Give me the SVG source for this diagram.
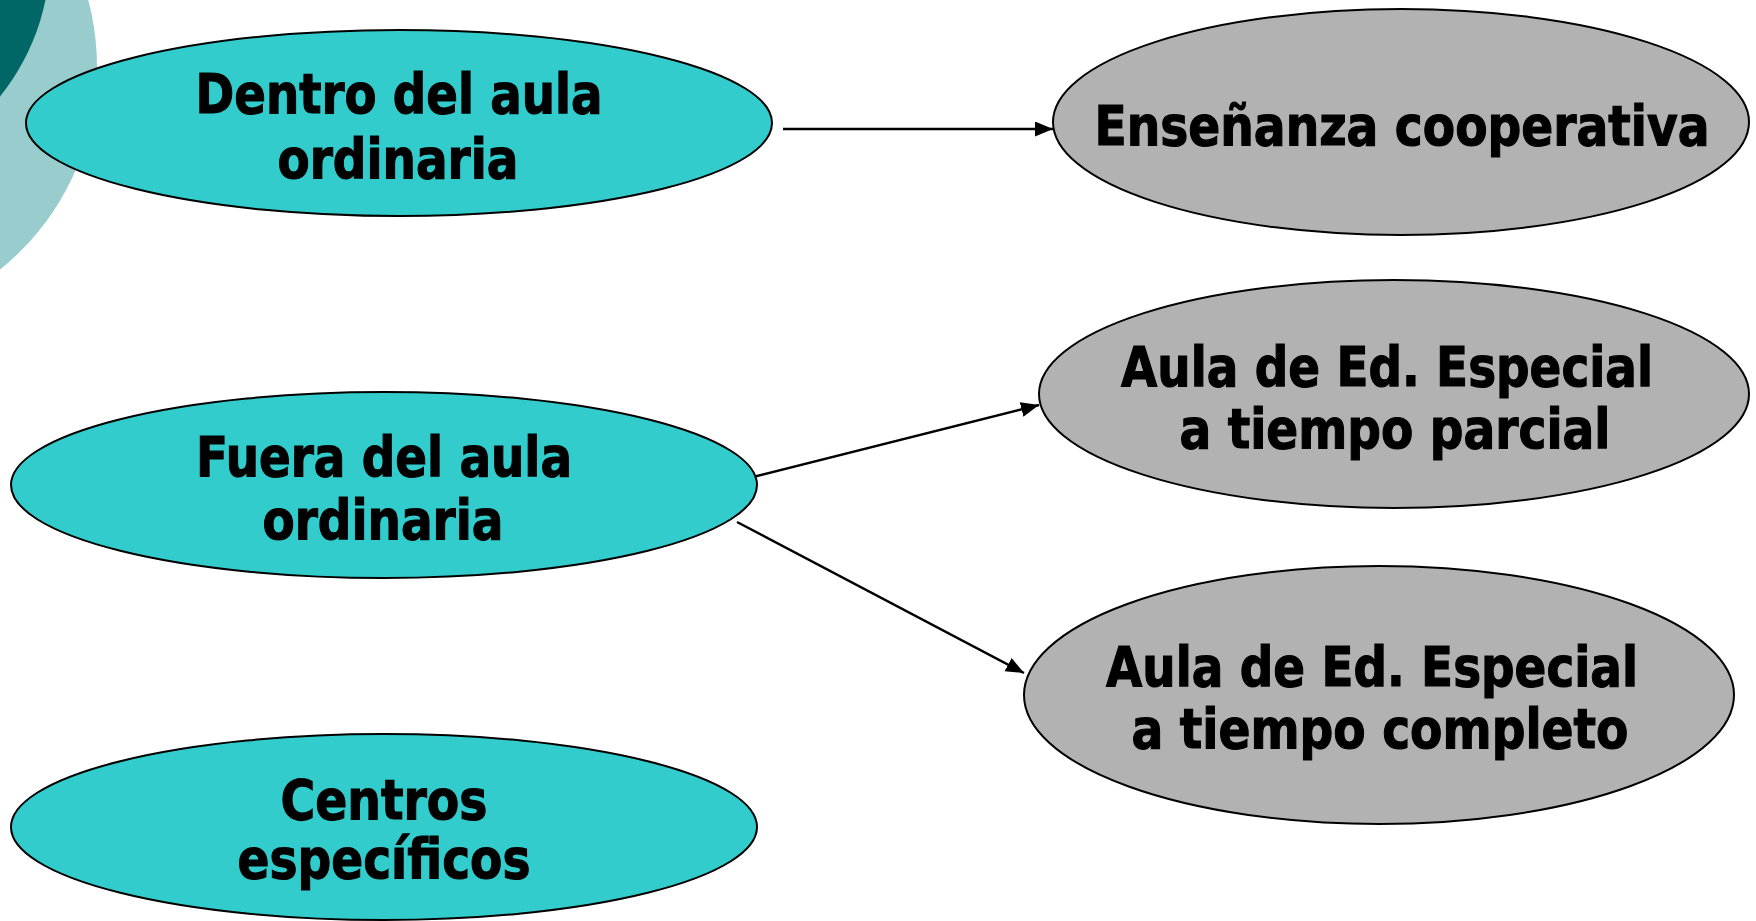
<svg xmlns="http://www.w3.org/2000/svg" width="1756" height="921" viewBox="0 0 1756 921">
<style>
.teal{fill:#33CCCC;stroke:#000;stroke-width:2}
.gray{fill:#B2B2B2;stroke:#000;stroke-width:2}
.lbl{font-family:"DejaVu Sans","Liberation Sans",sans-serif;font-weight:bold;font-size:56px;fill:#000;stroke:#000;stroke-width:1.2;text-anchor:middle}
.conn{stroke:#000;stroke-width:2.4;fill:none;marker-end:url(#arr)}
</style>
<defs>
<marker id="arr" markerUnits="userSpaceOnUse" markerWidth="19" markerHeight="16" refX="18" refY="7.5" orient="auto">
<path d="M0,0 L18,7.5 L0,15 z" fill="#000"/>
</marker>
</defs>
<rect width="1756" height="921" fill="#fff"/>
<g id="decoration">
<circle cx="-163" cy="67" r="260" fill="#99CCCC"/>
<circle cx="-175" cy="-45" r="225" fill="#006666"/>
</g>
<g id="connectors">
<line class="conn" x1="783" y1="129" x2="1053" y2="129"/>
<line class="conn" x1="753" y1="477" x2="1039" y2="405"/>
<line class="conn" x1="737" y1="522" x2="1024" y2="673"/>
</g>
<g id="n-dentro">
<ellipse class="teal" cx="399" cy="123" rx="373" ry="93"/>
<text class="lbl" x="399" y="113" textLength="407" lengthAdjust="spacingAndGlyphs">Dentro del aula</text>
<text class="lbl" x="398" y="178" textLength="241" lengthAdjust="spacingAndGlyphs">ordinaria</text>
</g>
<g id="n-fuera">
<ellipse class="teal" cx="384" cy="485" rx="373" ry="93"/>
<text class="lbl" x="384" y="476" textLength="376" lengthAdjust="spacingAndGlyphs">Fuera del aula</text>
<text class="lbl" x="383" y="539" textLength="241" lengthAdjust="spacingAndGlyphs">ordinaria</text>
</g>
<g id="n-centros">
<ellipse class="teal" cx="384" cy="827" rx="373" ry="93"/>
<text class="lbl" x="384" y="819" textLength="207" lengthAdjust="spacingAndGlyphs">Centros</text>
<text class="lbl" x="384" y="878" textLength="293" lengthAdjust="spacingAndGlyphs">específicos</text>
</g>
<g id="n-cooperativa">
<ellipse class="gray" cx="1401" cy="122" rx="348" ry="113"/>
<text class="lbl" x="1402" y="145" textLength="615" lengthAdjust="spacingAndGlyphs">Enseñanza cooperativa</text>
</g>
<g id="n-parcial">
<ellipse class="gray" cx="1394" cy="394" rx="355" ry="114"/>
<text class="lbl" x="1387" y="386" textLength="532" lengthAdjust="spacingAndGlyphs">Aula de Ed. Especial</text>
<text class="lbl" x="1395" y="448" textLength="431" lengthAdjust="spacingAndGlyphs">a tiempo parcial</text>
</g>
<g id="n-completo">
<ellipse class="gray" cx="1379" cy="695" rx="355" ry="129"/>
<text class="lbl" x="1372" y="686" textLength="532" lengthAdjust="spacingAndGlyphs">Aula de Ed. Especial</text>
<text class="lbl" x="1380" y="748" textLength="497" lengthAdjust="spacingAndGlyphs">a tiempo completo</text>
</g>
</svg>
